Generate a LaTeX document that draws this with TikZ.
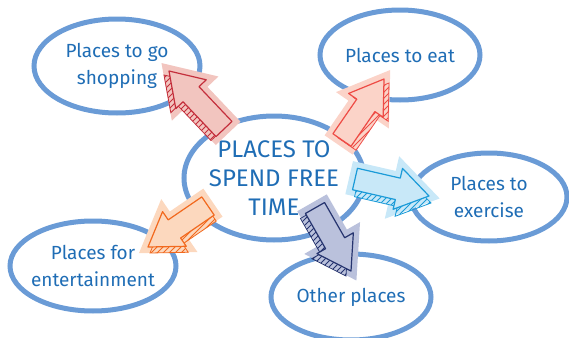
\documentclass[tikz,border=0pt]{standalone}
\usepackage{fontspec}
\setmainfont{Fira Sans}
\usetikzlibrary{shapes.geometric,calc,patterns}
\definecolor{ring}{HTML}{6A9BD6}
\definecolor{ink}{HTML}{1F6DB5}
\definecolor{shopL}{HTML}{F2C5BF}
\definecolor{shopD}{HTML}{C42F3C}
\definecolor{eatL}{HTML}{FBD3C8}
\definecolor{eatD}{HTML}{EE4B45}
\definecolor{exerL}{HTML}{C8E8F8}
\definecolor{exerD}{HTML}{1B9BD8}
\definecolor{otherL}{HTML}{BAC1DC}
\definecolor{otherD}{HTML}{26346F}
\definecolor{entL}{HTML}{FCD8BE}
\definecolor{entD}{HTML}{F2691E}
\tikzset{bubble/.style={ellipse, draw=ring, line width=2.5pt, inner sep=-15pt,
    text=ink, align=center, font=\fontsize{9.5}{13.5}\selectfont}}
\newcommand{\blockpath}[2]{($(#1)!5.5pt!90:(#2)$) -- ($(B)!5.5pt!-90:(#1)$)
  -- ($(B)!10.5pt!-90:(#1)$) -- (#2) -- ($(B)!10.5pt!90:(#1)$)
  -- ($(B)!5.5pt!90:(#1)$) -- ($(#1)!5.5pt!-90:(#2)$) -- cycle}

\begin{document}
\begin{tikzpicture}[x=0.5pt, y=-0.5pt]
    \useasboundingbox (0,0) rectangle (569,338);
    \node[bubble, minimum width=90pt, minimum height=62pt,
      font=\fontsize{12}{14.5}\selectfont] (0) at (274,178) {PLACES TO\\SPEND FREE\\TIME};
    \node[bubble, minimum width=83pt, minimum height=47pt] (1) at (117,66) {Places to go\\shopping};
    \node[bubble, minimum width=80pt, minimum height=45pt] (2) at (400,55) {Places to eat};
    \node[bubble, minimum width=78pt, minimum height=44pt] (3) at (489,197) {Places to\\exercise};
    \node[bubble, minimum width=80pt, minimum height=43pt] (4) at (351,297) {Other places};
    \node[bubble, minimum width=83pt, minimum height=45pt] (5) at (93,266) {Places for\\entertainment};
    % arrow ends
    \coordinate (11) at (224,129);
    \coordinate (21) at (169,71);
    \coordinate (12) at (342,140);
    \coordinate (22) at (384,79);
    \coordinate (13) at (355,179);
    \coordinate (23) at (429,196);
    \coordinate (14) at (315,208);
    \coordinate (24) at (351,271);
    \coordinate (15) at (208,206);
    \coordinate (25) at (148,247);
    \foreach \a/\b/\lt/\dk/\sx/\sy in {11/21/shopL/shopD/-5/4, 12/22/eatL/eatD/5/4,
      13/23/exerL/exerD/2/7, 14/24/otherL/otherD/-5/5, 15/25/entL/entD/2/6} {
      \coordinate (B) at ($(\b)!16pt!(\a)$);
      \filldraw[\lt, line width=6pt, line join=miter] \blockpath{\a}{\b};
      \begin{scope}[transform canvas={shift={(\sx,\sy)}}]
        \draw[\dk, line width=0.4pt, pattern=north east lines, pattern color=\dk] \blockpath{\a}{\b};
      \end{scope}
      \filldraw[fill=\lt, draw=\dk, line width=0.6pt, line join=round] \blockpath{\a}{\b};
    }
  \end{tikzpicture}
\end{document}
